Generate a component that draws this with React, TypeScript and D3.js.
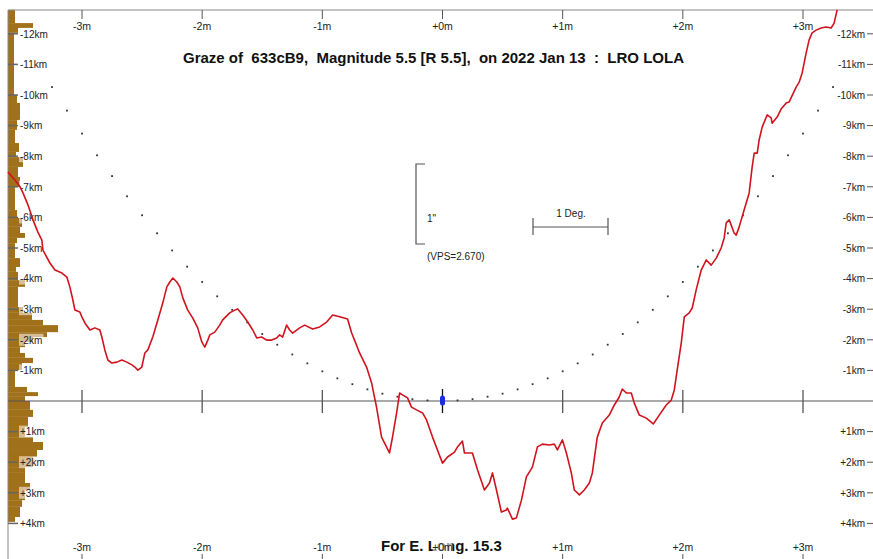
import React from "react";
import * as d3 from "d3";

// Axis ticks and labels
const minuteTicks = [-3, -2, -1, 0, 1, 2, 3];
const minuteLabels = ["-3m", "-2m", "-1m", "+0m", "+1m", "+2m", "+3m"];
const kmTicks = [-12, -11, -10, -9, -8, -7, -6, -5, -4, -3, -2, -1, 1, 2, 3, 4];
const kmLabels = [
  "-12km", "-11km", "-10km", "-9km", "-8km", "-7km", "-6km", "-5km", "-4km",
  "-3km", "-2km", "-1km", "+1km", "+2km", "+3km", "+4km",
];

// LOLA limb profile: time (minutes) and height (km, negative = north/up)
const profileMinutes = [
  -3.616, -3.558, -3.516, -3.491, -3.45, -3.408, -3.367, -3.334, -3.325, -3.267,
  -3.225, -3.167, -3.126, -3.101, -3.076, -3.059, -3.018, -3.001, -2.976, -2.934,
  -2.893, -2.851, -2.835, -2.81, -2.785, -2.752, -2.71, -2.668, -2.627, -2.585,
  -2.56, -2.535, -2.502, -2.477, -2.452, -2.411, -2.369, -2.328, -2.294, -2.269,
  -2.244, -2.211, -2.186, -2.161, -2.12, -2.078, -2.037, -2.003, -1.978, -1.953,
  -1.937, -1.895, -1.854, -1.829, -1.771, -1.729, -1.704, -1.663, -1.621, -1.579,
  -1.546, -1.505, -1.463, -1.421, -1.38, -1.355, -1.33, -1.297, -1.272, -1.247,
  -1.189, -1.147, -1.081, -1.022, -0.964, -0.914, -0.856, -0.79, -0.756, -0.732,
  -0.69, -0.632, -0.59, -0.549, -0.507, -0.466, -0.441, -0.416, -0.382, -0.357,
  -0.333, -0.291, -0.258, -0.216, -0.166, -0.133, -0.083, -0.042, 0.0, 0.042,
  0.1, 0.125, 0.166, 0.183, 0.224, 0.249, 0.291, 0.349, 0.391, 0.416,
  0.449, 0.49, 0.532, 0.54, 0.582, 0.615, 0.657, 0.698, 0.748, 0.79,
  0.831, 0.889, 0.931, 0.956, 0.998, 1.031, 1.072, 1.097, 1.139, 1.18,
  1.222, 1.247, 1.288, 1.33, 1.388, 1.43, 1.471, 1.496, 1.53, 1.571,
  1.596, 1.638, 1.696, 1.754, 1.804, 1.862, 1.904, 1.929, 1.953, 1.987,
  2.012, 2.053, 2.078, 2.111, 2.153, 2.195, 2.236, 2.278, 2.319, 2.344,
  2.361, 2.386, 2.427, 2.444, 2.469, 2.51, 2.552, 2.577, 2.594, 2.619,
  2.635, 2.66, 2.702, 2.735, 2.743, 2.785, 2.818, 2.86, 2.884, 2.943,
  2.968, 2.993, 3.026, 3.051, 3.076, 3.109, 3.151, 3.192, 3.234, 3.259,
  3.284,
];
const profileKm = [
  -7.48, -7.22, -7.0, -6.8, -6.41, -5.92, -5.52, -5.26, -4.93, -4.51,
  -4.28, -4.18, -4.05, -3.73, -3.3, -2.97, -2.91, -2.75, -2.55, -2.32,
  -2.39, -2.32, -2.09, -1.67, -1.34, -1.24, -1.27, -1.34, -1.27, -1.18,
  -1.11, -1.01, -1.11, -1.57, -1.67, -2.09, -2.65, -3.2, -3.73, -3.89,
  -4.02, -3.89, -3.73, -3.37, -2.97, -2.71, -2.39, -1.93, -1.76, -1.99,
  -2.16, -2.25, -2.48, -2.65, -2.88, -2.97, -3.01, -2.81, -2.58, -2.32,
  -2.06, -2.09, -1.99, -1.99, -2.06, -2.16, -2.09, -2.48, -2.32, -2.22,
  -2.39, -2.48, -2.35, -2.42, -2.58, -2.81, -2.75, -2.68, -2.22, -1.99,
  -1.57, -1.11, -0.59, 0.2, 1.18, 1.5, 1.7, 1.18, 0.39, -0.26,
  -0.2, -0.1, 0.2, 0.29, 0.39, 0.62, 1.18, 1.6, 2.03, 1.83,
  1.67, 1.5, 1.31, 1.7, 1.7, 1.7, 2.25, 2.91, 2.68, 2.35,
  2.91, 3.63, 3.56, 3.5, 3.86, 3.82, 3.24, 2.48, 2.16, 1.5,
  1.41, 1.44, 1.41, 1.6, 1.27, 1.7, 2.35, 2.91, 3.07, 2.91,
  2.68, 2.35, 1.18, 0.72, 0.46, 0.13, -0.13, -0.39, -0.26, -0.26,
  0.07, 0.46, 0.56, 0.75, 0.46, 0.13, -0.03, -0.36, -1.01, -1.9,
  -2.75, -2.88, -3.04, -3.63, -4.28, -4.61, -4.44, -4.67, -5.0, -5.33,
  -5.82, -5.92, -5.49, -5.42, -5.69, -6.24, -6.8, -7.65, -8.1, -8.1,
  -8.53, -8.95, -9.35, -9.25, -9.08, -9.28, -9.54, -9.74, -9.77, -10.26,
  -10.42, -10.72, -11.37, -11.8, -12.03, -12.12, -12.19, -12.22, -12.19, -12.35,
  -12.78,
];

// Mean limb (dotted curve)
const limbMinutes = [
  -3.25, -3.125, -3.0, -2.875, -2.75, -2.625, -2.5, -2.375, -2.25, -2.125,
  -2.0, -1.875, -1.75, -1.625, -1.5, -1.375, -1.25, -1.125, -1.0, -0.875,
  -0.75, -0.625, -0.5, -0.375, -0.25, -0.125, 0.125, 0.25, 0.375, 0.5,
  0.625, 0.75, 0.875, 1.0, 1.125, 1.25, 1.375, 1.5, 1.625, 1.75,
  1.875, 2.0, 2.125, 2.25, 2.375, 2.5, 2.625, 2.75, 2.875, 3.0,
  3.125, 3.25,
];
const limbKm = [
  -10.26, -9.49, -8.74, -8.03, -7.35, -6.69, -6.07, -5.48, -4.92, -4.39,
  -3.89, -3.42, -2.98, -2.57, -2.19, -1.84, -1.52, -1.23, -0.97, -0.74,
  -0.55, -0.38, -0.24, -0.14, -0.06, -0.02, -0.02, -0.06, -0.14, -0.24,
  -0.38, -0.55, -0.74, -0.97, -1.23, -1.52, -1.84, -2.19, -2.57, -2.98,
  -3.42, -3.89, -4.39, -4.92, -5.48, -6.07, -6.69, -7.35, -8.03, -8.74,
  -9.49, -10.26,
];

// Height histogram along the left edge
const histEdgesKm = [
  -12.78, -12.35, -12.19, -12.03, -10.0, -9.74, -9.18, -8.86, -8.43, -8.14,
  -7.97, -7.65, -7.32, -6.99, -6.24, -5.98, -5.69, -5.49, -5.33, -5.16,
  -4.67, -4.38, -4.22, -3.95, -3.73, -3.07, -2.88, -2.65, -2.48, -2.25,
  -2.09, -1.93, -1.76, -1.57, -1.41, -1.24, -1.01, -0.46, -0.29, -0.16,
  0, 0.29, 0.52, 0.85, 1.18, 1.34, 1.6, 1.83, 2.16, 2.35,
  2.68, 2.91, 3.24, 3.46, 3.79, 3.95,
];
const histCounts = [
  7, 25, 10, 6, 9, 12, 9, 7, 11, 8,
  15, 10, 12, 7, 9, 14, 12, 17, 9, 7,
  12, 8, 10, 17, 10, 15, 24, 35, 50, 39,
  25, 17, 12, 17, 25, 14, 7, 19, 30, 17,
  22, 25, 20, 17, 25, 35, 29, 25, 17, 17,
  22, 17, 14, 12, 7,
];

const W = 873;
const H = 559;
const FONT = "'Liberation Sans', Arial, sans-serif";

export default function App() {
  const x = d3.scaleLinear().domain([-3, 3]).range([82, 803]);
  const y = d3.scaleLinear().domain([0, -12]).range([401, 33.8]);
  const hx = d3.scaleLinear().domain([0, 50]).range([8, 58]);

  const profile = profileMinutes.map((m, i) => [m, profileKm[i]] as [number, number]);
  const line = d3
    .line<[number, number]>()
    .x((d) => x(d[0]))
    .y((d) => y(d[1]));

  const bins = histCounts.map((c, i) => ({
    c,
    top: y(histEdgesKm[i]),
    bot: y(histEdgesKm[i + 1]),
  }));

  const x0 = x(0);
  const yZero = y(0);

  // vertical scale bar (1 arcsec) and horizontal (1 degree) positions
  const vBarX = 416;
  const vBarTop = 164;
  const vBarBot = 244;
  const hBarL = 533;
  const hBarR = 608;
  const hBarY = 227;

  const labelBox = (txt: string, fs: number) => txt.length * fs * 0.56 + 2;

  return (
    <div style={{ position: "absolute", left: 0, top: 0, width: W, height: H, background: "#fff" }}>
      <svg width={W} height={H} style={{ display: "block" }} fontFamily={FONT}>
        <rect x={0} y={0} width={W} height={H} fill="#fff" />

        {/* histogram */}
        {bins.map((b, i) => (
          <rect
            key={"h" + i}
            x={hx(0)}
            y={Math.min(b.top, b.bot)}
            width={hx(b.c) - hx(0)}
            height={Math.abs(b.bot - b.top)}
            fill="#a0701a"
          />
        ))}

        {/* frame */}
        <line x1={8} x2={W} y1={10} y2={10} stroke="#888" strokeWidth={1} />
        <line x1={8} x2={8} y1={10} y2={H} stroke="#888" strokeWidth={1} />

        {/* zero line */}
        <line x1={8} x2={W} y1={yZero} y2={yZero} stroke="#555" strokeWidth={1.2} />

        {/* title */}
        <text x={183} y={63} fontSize={15} fontWeight="bold" fill="#111" xmlSpace="preserve" style={{ whiteSpace: "pre" }}>
          {"Graze of  633cB9,  Magnitude 5.5 [R 5.5],  on 2022 Jan 13  :  LRO LOLA"}
        </text>
        <text x={381} y={551} fontSize={15} fontWeight="bold" fill="#111">
          For E. Long. 15.3
        </text>

        {/* minute ticks: top, zero line, bottom */}
        {minuteTicks.map((m, i) => (
          <g key={"m" + i}>
            <line x1={x(m)} x2={x(m)} y1={10} y2={19} stroke="#555" strokeWidth={1} />
            {m !== 0 && (
              <line x1={x(m)} x2={x(m)} y1={yZero - 11} y2={yZero + 12} stroke="#555" strokeWidth={1.3} />
            )}
            <line x1={x(m)} x2={x(m)} y1={554} y2={H} stroke="#555" strokeWidth={1} />
            <rect
              x={x(m) - labelBox(minuteLabels[i], 10.5) / 2}
              y={21}
              width={labelBox(minuteLabels[i], 10.5)}
              height={11}
              fill="#fff"
              opacity={0.6}
            />
            <text x={x(m)} y={30} fontSize={10.5} textAnchor="middle" fill="#222">
              {minuteLabels[i]}
            </text>
            <rect
              x={x(m) - labelBox(minuteLabels[i], 10.5) / 2}
              y={541}
              width={labelBox(minuteLabels[i], 10.5)}
              height={11}
              fill="#fff"
              opacity={0.6}
            />
            <text x={x(m)} y={551} fontSize={10.5} textAnchor="middle" fill="#222">
              {minuteLabels[i]}
            </text>
          </g>
        ))}

        {/* km ticks, left and right */}
        {kmTicks.map((k, i) => (
          <g key={"k" + i}>
            <line x1={8} x2={18} y1={y(k)} y2={y(k)} stroke="#666" strokeWidth={1.5} />
            <rect x={19} y={y(k) - 6} width={labelBox(kmLabels[i], 10)} height={12} fill="#fff" opacity={0.55} />
            <text x={20} y={y(k) + 3.7} fontSize={10} fill="#222">
              {kmLabels[i]}
            </text>
            <text x={865} y={y(k) + 3.7} fontSize={10} textAnchor="end" fill="#222">
              {kmLabels[i]}
            </text>
            <line x1={867} x2={W} y1={y(k)} y2={y(k)} stroke="#555" strokeWidth={1} />
          </g>
        ))}

        {/* mean limb dots */}
        {limbMinutes.map((m, i) => (
          <rect key={"d" + i} x={x(m) - 0.9} y={y(limbKm[i]) - 0.9} width={1.8} height={1.8} fill="#333" />
        ))}

        {/* scale bars */}
        <path
          d={`M${vBarX + 9},${vBarTop}H${vBarX}V${vBarBot}H${vBarX + 9}`}
          fill="none"
          stroke="#555"
          strokeWidth={1.2}
        />
        <text x={427} y={222} fontSize={10} fill="#222">1"</text>
        <text x={427} y={260} fontSize={10} fill="#222">(VPS=2.670)</text>
        <line x1={hBarL} x2={hBarR} y1={hBarY} y2={hBarY} stroke="#555" strokeWidth={1.2} />
        <line x1={hBarL} x2={hBarL} y1={hBarY - 9} y2={hBarY + 8} stroke="#555" strokeWidth={1.2} />
        <line x1={hBarR} x2={hBarR} y1={hBarY - 9} y2={hBarY + 8} stroke="#555" strokeWidth={1.2} />
        <text x={571} y={217} fontSize={10} textAnchor="middle" fill="#222">1 Deg.</text>

        {/* profile */}
        <path d={line(profile) ?? ""} fill="none" stroke="#d0141e" strokeWidth={1.6} strokeLinejoin="round" />

        {/* star position marker */}
        <line x1={x0} x2={x0} y1={yZero - 12} y2={yZero + 12} stroke="#111" strokeWidth={1.3} />
        <rect x={x0 - 2.5} y={yZero - 5.5} width={5} height={10} rx={2.5} fill="#1a2ee0" />
      </svg>
    </div>
  );
}
